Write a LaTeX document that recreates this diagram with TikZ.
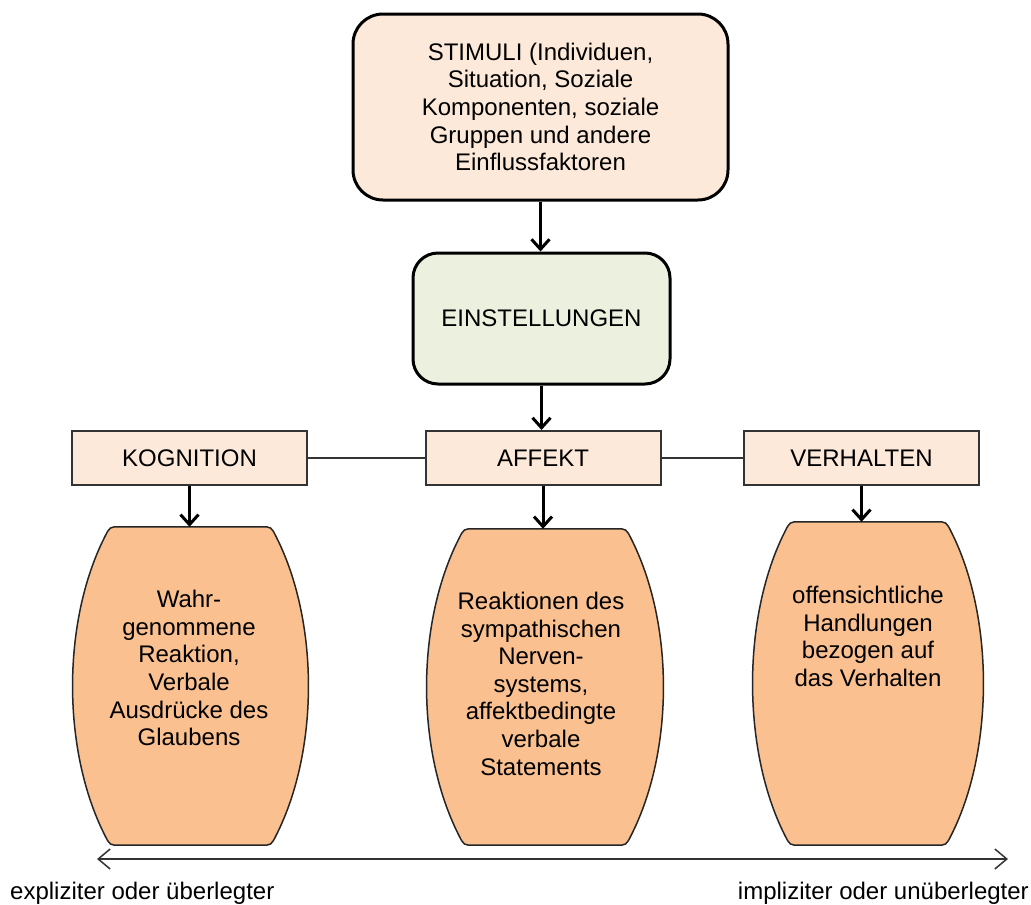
\documentclass[tikz,border=0pt]{standalone}
\usepackage{fontspec}
\setmainfont{Liberation Sans}
\usetikzlibrary{arrows.meta,calc}
\definecolor{peach}{HTML}{FDE9D9}
\definecolor{sage}{HTML}{EBF1DE}
\definecolor{orangefill}{HTML}{FAC090}
\newcommand\mybarrel[1]{%
  \draw[barrelline]
    ($(#1.north east)+(-47,0)$) .. controls ($(#1.north east)+(-37,0)$) .. ($(#1.north east)+(-32,10)$)
    .. controls ($(#1.north east)+(11,95)$) and ($(#1.south east)+(11,-95)$) .. ($(#1.south east)+(-32,-10)$)
    .. controls ($(#1.south east)+(-37,0)$) .. ($(#1.south east)+(-47,0)$)
    -- ($(#1.south west)+(47,0)$)
    .. controls ($(#1.south west)+(37,0)$) .. ($(#1.south west)+(32,-10)$)
    .. controls ($(#1.south west)+(-11,-95)$) and ($(#1.north west)+(-11,95)$) .. ($(#1.north west)+(32,10)$)
    .. controls ($(#1.north west)+(37,0)$) .. ($(#1.north west)+(47,0)$)
    -- cycle;}
\begin{document}
\begin{tikzpicture}[x=1pt,y=-1pt,
  every node/.style={font=\fontsize{24}{27.6}\selectfont, align=center, inner sep=0pt},
  bigbox/.style={draw=black, line width=3pt},
  labelbox/.style={draw=black!80, line width=2pt, fill=peach, minimum width=235pt, minimum height=54pt},
  barrelarea/.style={draw=none, fill=none},
  barrelline/.style={draw=black!85, line width=1.5pt, fill=orangefill},
  downarrow/.style={-{Straight Barb[length=10pt,width=18pt]}, line width=3pt},
  link/.style={line width=1.5pt, draw=black!80},
  scalearrow/.style={{Straight Barb[length=12pt,width=20pt]}-{Straight Barb[length=12pt,width=20pt]}, line width=1.5pt, draw=black!80}
]
\fill[white] (0,0) rectangle (1031,905);
\useasboundingbox (0,0) rectangle (1031,905);

\node[bigbox, fill=peach, rounded corners=30pt, minimum width=375pt, minimum height=186pt] (stim) at (540.5,107)
  {STIMULI (Individuen,\\Situation, Soziale\\Komponenten, soziale\\Gruppen und andere\\Einflussfaktoren};
\node[bigbox, fill=sage, rounded corners=25pt, minimum width=257pt, minimum height=131pt] (ein) at (541.5,318.5) {EINSTELLUNGEN};

\node[labelbox] (kog) at (189.5,458) {KOGNITION};
\node[labelbox] (aff) at (543,458) {AFFEKT};
\node[labelbox] (ver) at (861.5,458) {VERHALTEN};

\node[barrelarea, minimum width=235pt, minimum height=318pt] (b1) at (190.5,686) {};
\node[barrelarea, minimum width=236pt, minimum height=316pt] (b2) at (545,687) {};
\node[barrelarea, minimum width=230pt, minimum height=323pt] (b3) at (868,683.5) {};
\mybarrel{b1}
\mybarrel{b2}
\mybarrel{b3}

\node[anchor=north] (t1) at (189,590) {Wahr-\\genommene\\Reaktion,\\Verbale\\Ausdrücke des\\Glaubens};
\node[anchor=north] (t2) at (541,592) {Reaktionen des\\sympathischen\\Nerven-\\systems,\\affektbedingte\\verbale\\Statements};
\node[anchor=north] (t3) at (868,586) {offensichtliche\\Handlungen\\bezogen auf\\das Verhalten};

\draw[downarrow] (stim.south) -- (stim.south |- ein.north);
\draw[downarrow] (ein.south) -- (ein.south |- aff.north);
\draw[downarrow] (kog.south) -- (kog.south |- b1.north);
\draw[downarrow] (aff.south) -- (aff.south |- b2.north);
\draw[downarrow] (ver.south) -- (ver.south |- b3.north);
\draw[link] (kog.east) -- (aff.west);
\draw[link] (aff.east) -- (ver.west);

\coordinate (axL) at (97,859);
\coordinate (axR) at (1008,859);
\draw[scalearrow] (axL) -- (axR);
\node[anchor=west] (lblL) at (10,893.5) {expliziter oder überlegter};
\node[anchor=east] (lblR) at (1029,893.5) {impliziter oder unüberlegter};
\end{tikzpicture}
\end{document}
